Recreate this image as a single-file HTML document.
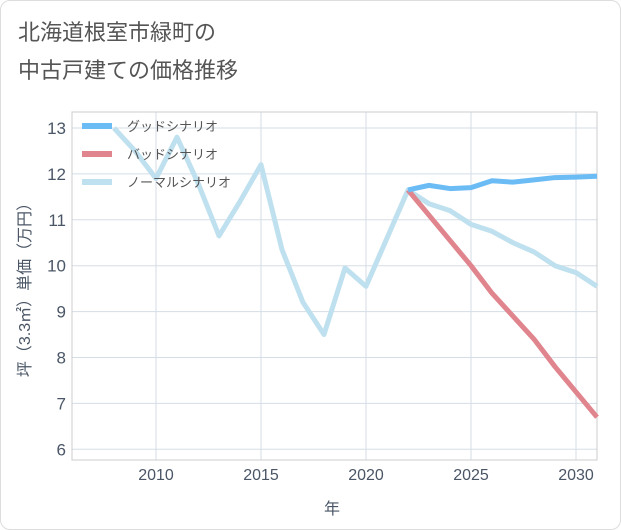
<!DOCTYPE html>
<html><head><meta charset="utf-8"><style>
body{margin:0;background:#fff;font-family:"Liberation Sans","Noto Sans CJK JP",sans-serif}
#card{position:absolute;left:0;top:0;width:619px;height:528px;border:1px solid #ddd;border-radius:10px;background:#fff}
</style></head><body>
<div id="card"></div>
<svg id="chart" width="621" height="530" style="position:absolute;left:0;top:0">
<text x="18" y="40" font-size="22" fill="#555">北海道根室市緑町の</text>
<text x="18" y="78" font-size="22" fill="#555">中古戸建ての価格推移</text>
<g id="grid"></g><g id="series"></g><g id="legend"></g>
<text x="332" y="514" font-size="16" fill="#4a5666" text-anchor="middle">年</text>
<text transform="translate(30,286) rotate(-90)" font-size="16" fill="#4a5666" text-anchor="middle">坪（3.3㎡）単価（万円）</text>
</svg>
<script>
const normalYears=[2008,2009,2010,2011,2012,2013,2014,2015,2016,2017,2018,2019,2020,2021,2022,2023,2024,2025,2026,2027,2028,2029,2030,2031];
const normalVals=[13.0,12.5,11.9,12.8,11.8,10.65,11.4,12.2,10.35,9.2,8.5,9.95,9.55,10.6,11.65,11.35,11.2,10.9,10.75,10.5,10.3,10.0,9.85,9.55];
const futureYears=[2022,2023,2024,2025,2026,2027,2028,2029,2030,2031];
const goodVals=[11.65,11.75,11.68,11.7,11.85,11.82,11.87,11.92,11.93,11.95];
const badVals=[11.65,11.1,10.55,10.0,9.4,8.9,8.4,7.8,7.25,6.7];
const xTicks=[2010,2015,2020,2025,2030];
const yTicks=[6,7,8,9,10,11,12,13];
const L=72,R=597,T=112,B=460;
const x=v=>L+(v-2006)*(R-L)/25;
const y=v=>128+(13-v)*45.9;
const NS='http://www.w3.org/2000/svg';
function mk(t,a,p){const e=document.createElementNS(NS,t);for(const k in a)e.setAttribute(k,a[k]);p.appendChild(e);return e;}
const g=document.getElementById('grid');
xTicks.forEach(t=>{const l=mk('line',{x1:x(t),x2:x(t),y1:T,y2:B,stroke:'#d5dde6'},g);

const tx=mk('text',{x:x(t),y:B+20,'font-size':16,fill:'#4a5666','text-anchor':'middle'},g);tx.textContent=t;
});
yTicks.forEach(t=>{const l=mk('line',{x1:L,x2:R,y1:y(t),y2:y(t),stroke:'#d5dde6'},g);

const tx=mk('text',{x:L-6,y:y(t)+6,'font-size':17,fill:'#4a5666','text-anchor':'end'},g);tx.textContent=t;
});
const fr=mk('rect',{x:L,y:T,width:R-L,height:B-T,fill:'none',stroke:'#ccc'},g);

const s=document.getElementById('series');
function line(xs,vs,c,n){const p=mk('polyline',{points:xs.map((v,i)=>x(v)+','+y(vs[i])).join(' '),fill:'none',stroke:c,'stroke-width':5,'stroke-linejoin':'round'},s);
}
line(normalYears,normalVals,'#bfe0ee','normal-scenario-line');
line(futureYears,badVals,'#e0848d','bad-scenario-line');
line(futureYears,goodVals,'#6bbcf5','good-scenario-line');
const lg=document.getElementById('legend');
[['グッドシナリオ','#6bbcf5'],['バッドシナリオ','#e0848d'],['ノーマルシナリオ','#bfe0ee']].forEach((d,i)=>{
const yy=126+i*28;
const r=mk('line',{x1:82,x2:112,y1:yy,y2:yy,stroke:d[1],'stroke-width':6},lg);

const t=mk('text',{x:127,y:yy+5,'font-size':13,fill:'#555'},lg);t.textContent=d[0];
});
</script>
</body></html>
